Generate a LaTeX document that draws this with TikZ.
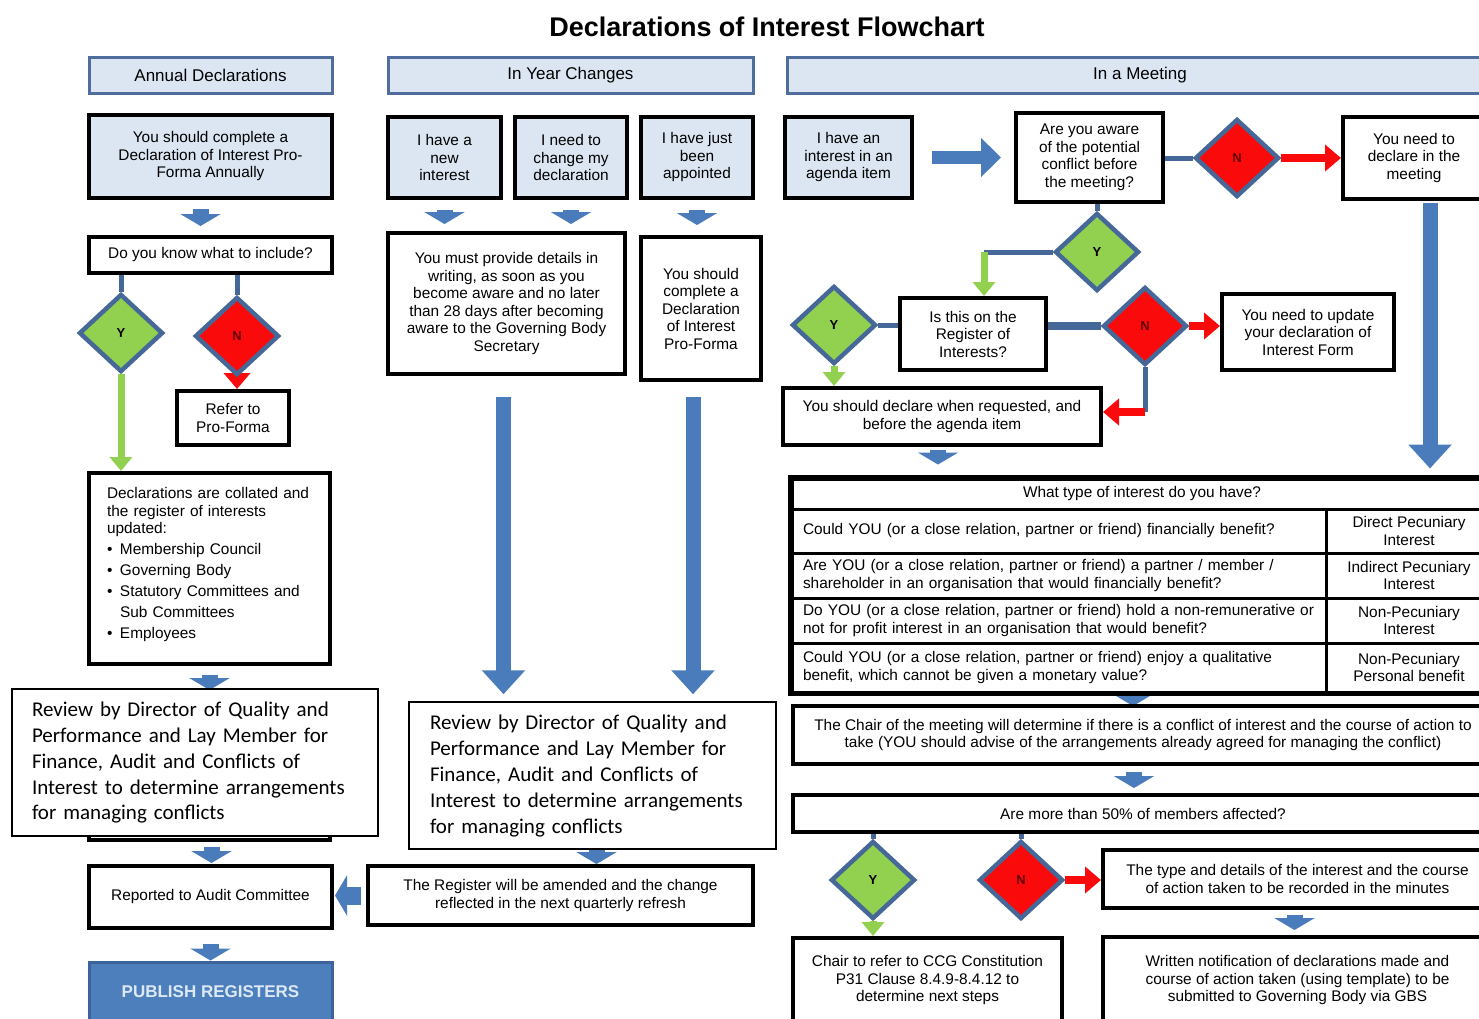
\documentclass[tikz,border=0pt]{standalone}
\usepackage{fontspec}
\setmainfont{Liberation Sans}
\newfontfamily\calfont{Carlito}
\usetikzlibrary{arrows.meta,shapes.geometric,calc}
\definecolor{hdrfill}{RGB}{220,230,242}
\definecolor{hdrdraw}{RGB}{79,110,158}
\definecolor{ablue}{RGB}{74,124,188}
\definecolor{lblue}{RGB}{70,104,152}
\definecolor{dgreen}{RGB}{146,208,80}
\definecolor{dred}{RGB}{250,10,10}
\definecolor{pubfill}{RGB}{76,127,188}
\definecolor{pubdraw}{RGB}{60,100,155}
\definecolor{pubtext}{RGB}{222,232,244}
\definecolor{nred}{RGB}{100,0,0}
\newcommand\myfs[2]{\fontsize{#1}{#2}\selectfont}
\pgfdeclarelayer{bgfill}
\pgfdeclarelayer{bg}
\pgfsetlayers{bgfill,bg,main}
\tikzset{
  bb/.style n args={4}{at={({(#1+#3)/2},{(#2+#4)/2})}, minimum width={(#3-#1)*1pt}, minimum height={(#4-#2)*1pt}},
  base/.style={inner sep=0pt, align=center, font=\myfs{15.4}{17.5}},
  bx/.style={base, draw=black, line width=4pt, fill=white},
  lbx/.style={bx, fill=hdrfill},
  hdr/.style={base, draw=hdrdraw, line width=3pt, fill=hdrfill, font=\myfs{17}{20}},
  rev/.style={inner sep=0pt, draw=black, line width=1.5pt, fill=white, align=left, font=\calfont\myfs{21}{26}},
  dia/.style={diamond, draw=lblue, line width=4.5pt, inner sep=0pt, minimum width=84pt, minimum height=78pt, font=\bfseries\myfs{13}{13}},
  ydia/.style={dia, fill=dgreen},
  ndia/.style={dia, fill=dred, text=nred},
  cell/.style={base, draw=black, line width=3pt, fill=white},
  tq/.style={cell, align=left, text width=512pt, inner xsep=11pt},
  sarr/.style={draw=ablue, line width=16pt, -{Triangle[width=40pt,length=12pt]}},
  larr/.style={draw=ablue, line width=15pt, -{Triangle[width=42pt,length=24pt]}},
  harr/.style={draw=ablue, line width=13pt, -{Triangle[width=38pt,length=20pt]}},
  conn/.style={draw=lblue, line width=5pt},
  garr/.style={draw=dgreen, line width=7pt, -{Triangle[width=22pt,length=14pt]}},
  rarr/.style={draw=dred, line width=8pt, -{Triangle[width=26pt,length=16pt]}},
}
\begin{document}
\begin{tikzpicture}[x=1pt,y=-1pt]
\useasboundingbox (0,0) rectangle (1479,1018);
\begin{pgfonlayer}{bgfill}\fill[white] (0,0) rectangle (1479,1018);\end{pgfonlayer}

\node[inner sep=0pt, font=\bfseries\myfs{27}{30}] (title) at (767,27) {Declarations of Interest Flowchart};

% headers
\node[hdr, bb={89}{57}{332}{93}] (hA) {Annual Declarations};
\node[hdr, bb={388}{57}{753}{93}] (hY) {In Year Changes};
\node[hdr, bb={787}{57}{1493}{93}] (hM) {In a Meeting};

% left column
\node[lbx, bb={89}{115}{332}{198}] (a1) {You should complete a\\Declaration of Interest Pro-\\Forma Annually};
\node[bx, bb={89}{237}{332}{273}] (a2) {Do you know what to include?};
\node[ydia] (dAY) at (121,333) {Y};
\node[ndia] (dAN) at (237,336) {N};
\node[bx, bb={177}{391}{289}{445}] (a3) {Refer to\\Pro-Forma};
\node[bx, bb={89}{473}{330}{664}, align=left, text width=205pt, inner xsep=18pt] (a4) {Declarations are collated and\\the register of interests\\updated:\\[3.5pt]
\makebox[13pt][l]{\textbullet}Membership Council\\[3.5pt]
\makebox[13pt][l]{\textbullet}Governing Body\\[3.5pt]
\makebox[13pt][l]{\textbullet}Statutory Committees and\\[3.5pt]
\hspace*{13pt}Sub Committees\\[3.5pt]
\makebox[13pt][l]{\textbullet}Employees\\[-7pt]\mbox{}};
\node[bx, bb={89}{700}{330}{840}] (a5) {};
\node[rev, bb={12}{689}{378}{836}, text width=326pt, inner xsep=20pt] (rvL) {Review by Director of Quality and\\Performance and Lay Member for\\Finance, Audit and Conflicts of\\Interest to determine arrangements\\for managing conflicts};
\node[bx, bb={89}{866}{332}{928}] (a6) {Reported to Audit Committee};
\node[base, draw=pubdraw, line width=3pt, fill=pubfill, text=pubtext, font=\bfseries\myfs{17}{20}, bb={89}{962}{332}{1022}] (a7) {PUBLISH REGISTERS};

% middle column
\node[lbx, bb={388}{117}{501}{198}] (m1) {I have a\\new\\interest};
\node[lbx, bb={515}{117}{627}{198}] (m2) {I need to\\change my\\declaration};
\node[lbx, bb={641}{117}{753}{198}] (m3) {I have just\\been\\appointed};
\node[bx, bb={388}{233}{625}{374}] (m4) {You must provide details in\\writing, as soon as you\\become aware and no later\\than 28 days after becoming\\aware to the Governing Body\\Secretary};
\node[bx, bb={641}{237}{761}{380}] (m5) {You should\\complete a\\Declaration\\of Interest\\Pro-Forma};
\node[rev, bb={409}{702}{776}{849}, text width=325pt, inner xsep=21pt] (rvM) {Review by Director of Quality and\\Performance and Lay Member for\\Finance, Audit and Conflicts of\\Interest to determine arrangements\\for managing conflicts};
\node[bx, bb={368}{866}{753}{925}] (m6) {The Register will be amended and the change\\reflected in the next quarterly refresh};

% right column
\node[lbx, bb={785}{117}{912}{198}] (r1) {I have an\\interest in an\\agenda item};
\node[bx, bb={1016}{113}{1163}{202}] (r2) {Are you aware\\of the potential\\conflict before\\the meeting?};
\node[ndia] (dR1) at (1237,158) {N};
\node[bx, bb={1343}{117}{1485}{199}] (r3) {You need to\\declare in the\\meeting};
\node[ydia] (dR2) at (1097,252) {Y};
\node[bx, bb={900}{298}{1046}{370}] (r4) {Is this on the\\Register of\\Interests?};
\node[ydia] (dR3) at (834,325) {Y};
\node[ndia] (dR4) at (1145,326) {N};
\node[bx, bb={1222}{294}{1394}{370}] (r5) {You need to update\\your declaration of\\Interest Form};
\node[bx, bb={783}{388}{1101}{445}] (r6) {You should declare when requested, and\\before the agenda item};

% table
\node[cell, bb={792}{479}{1492}{509}] (th) {What type of interest do you have?};
\node[tq, bb={792}{509}{1326}{553}] (tq1) {Could YOU (or a close relation, partner or friend) financially benefit?};
\node[cell, bb={1326}{509}{1492}{553}] (ta1) {Direct Pecuniary\\Interest};
\node[tq, bb={792}{553}{1326}{598}] (tq2) {Are YOU (or a close relation, partner or friend) a partner / member /\\shareholder in an organisation that would financially benefit?};
\node[cell, bb={1326}{553}{1492}{598}] (ta2) {Indirect Pecuniary\\Interest};
\node[tq, bb={792}{598}{1326}{643}] (tq3) {Do YOU (or a close relation, partner or friend) hold a non-remunerative or\\not for profit interest in an organisation that would benefit?};
\node[cell, bb={1326}{598}{1492}{643}] (ta3) {Non-Pecuniary\\Interest};
\node[tq, bb={792}{643}{1326}{692}] (tq4) {Could YOU (or a close relation, partner or friend) enjoy a qualitative\\benefit, which cannot be given a monetary value?};
\node[cell, bb={1326}{643}{1492}{692}] (ta4) {Non-Pecuniary\\Personal benefit};
\draw[line width=5pt] (th.north west) rectangle (ta4.south east);

\node[bx, bb={793}{706}{1493}{764}] (r7) {The Chair of the meeting will determine if there is a conflict of interest and the course of action to\\take (YOU should advise of the arrangements already agreed for managing the conflict)};
\node[bx, bb={793}{795}{1493}{832}] (r8) {Are more than 50\% of members affected?};
\node[ydia] (dR5) at (873,880) {Y};
\node[ndia] (dR6) at (1021,880) {N};
\node[bx, bb={1103}{850}{1492}{908}] (r9) {The type and details of the interest and the course\\of action taken to be recorded in the minutes};
\node[bx, bb={793}{938}{1062}{1022}] (r10) {Chair to refer to CCG Constitution\\P31 Clause 8.4.9-8.4.12 to\\determine next steps};
\node[bx, bb={1103}{937}{1492}{1023}] (r11) {Written notification of declarations made and\\course of action taken (using template) to be\\submitted to Governing Body via GBS};

\coordinate (k1) at (984,252);
\coordinate (k2) at (1145,412);

\begin{pgfonlayer}{bg}
% left
\draw[sarr, shorten <=9pt, shorten >=9pt] ([xshift=-10pt]a1.south) -- ([xshift=-10pt]a1.south |- a2.north);
\draw[conn] (a2.south -| dAY) -- (dAY.north);
\draw[conn] (a2.south -| dAN) -- (dAN.north);
\draw[garr] (dAY.south) -- (dAY.south |- a4.north);
\draw[rarr] (dAN.south) -- (dAN.south |- a3.north);
\draw[sarr, shorten <=9pt, shorten >=8pt] (a4.south) -- (a4.south |- a5.north);
\draw[sarr, shorten <=5pt, shorten >=1pt] ([xshift=2pt]a5.south) -- ([xshift=2pt]a5.south |- a6.north);
\draw[sarr, shorten <=14pt] (a6.south) -- (a6.south |- a7.north);
% middle
\draw[sarr, shorten <=10pt, shorten >=7pt] (m1.south) -- (m1.south |- m4.north);
\draw[sarr, shorten <=10pt, shorten >=7pt] (m2.south) -- (m2.south |- m4.north);
\draw[sarr, shorten <=10pt, shorten >=10pt] (m3.south) -- (m3.south |- m5.north);
\draw[larr, shorten <=21pt, shorten >=7pt] ([xshift=-3pt]m4.south) -- ([xshift=-3pt]m4.south |- rvM.north);
\draw[larr, shorten <=15pt, shorten >=7pt] ([xshift=-8pt]m5.south) -- ([xshift=-8pt]m5.south |- rvM.north);
\draw[sarr, shorten <=-8pt] ([xshift=4pt]rvM.south) -- ([xshift=4pt]rvM.south |- m6.north);
\draw[sarr, line width=18pt, shorten <=5pt, shorten >=1pt] (m6.west) -- (m6.west -| a6.east);
% right
\draw[harr, shorten <=18pt, shorten >=13pt] (r1.east) -- (r1.east -| r2.west);
\draw[conn] (dR1.west -| r2.east) -- (dR1.west);
\draw[rarr] (dR1.east) -- (dR1.east -| r3.west);
\draw[larr, shorten <=2pt, shorten >=9pt] ([xshift=16pt]r3.south) -- ([xshift=16pt]r3.south |- th.north);
\draw[conn] (dR2.north |- r2.south) -- (dR2.north);
\draw[conn] (dR2.west) -- (k1);
\draw[garr] (k1) -- (k1 |- r4.north);
\draw[conn] (dR3.east -| r4.west) -- (dR3.east);
\draw[garr] (dR3.south) -- (dR3.south |- r6.north);
\draw[conn, line width=8pt] (dR4.west -| r4.east) -- (dR4.west);
\draw[rarr] (dR4.east) -- (dR4.east -| r5.west);
\draw[conn] (dR4.south) -- (k2);
\draw[rarr] (k2) -- (k2 -| r6.east);
\draw[sarr, shorten <=3pt, shorten >=13pt] ([xshift=-4pt]r6.south) -- ([xshift=-4pt]r6.south |- th.north);
\draw[sarr, shorten <=-2pt, shorten >=-2pt] ([xshift=-10pt]r7.north |- tq4.south) -- ([xshift=-10pt]r7.north);
\draw[sarr, shorten <=6pt, shorten >=5pt] ([xshift=-9pt]r7.south) -- ([xshift=-9pt]r7.south |- r8.north);
\draw[conn] (dR5.north |- r8.south) -- (dR5.north);
\draw[conn] (dR6.north |- r8.south) -- (dR6.north);
\draw[rarr] (dR6.east) -- (dR6.east -| r9.west);
\draw[sarr, shorten <=5pt, shorten >=5pt] ([xshift=-3pt]r9.south) -- ([xshift=-3pt]r9.south |- r11.north);
\draw[garr] (dR5.south) -- (dR5.south |- r10.north);
\end{pgfonlayer}
\end{tikzpicture}
\end{document}
